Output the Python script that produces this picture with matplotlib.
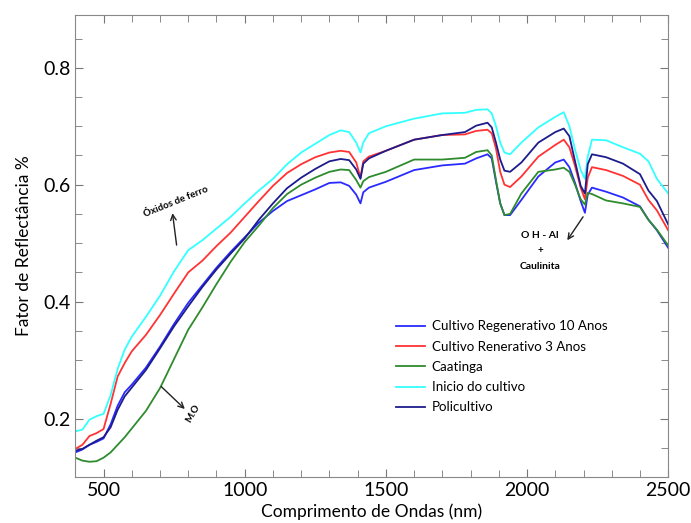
import matplotlib
matplotlib.use("Agg")
import matplotlib.pyplot as plt
from matplotlib.ticker import MultipleLocator

plt.rcParams['font.family'] = ['Lato', 'DejaVu Sans']

wavelength = [400, 425, 450, 475, 500, 525, 550, 575, 600, 650, 700, 750, 800, 850, 900, 950,
              1000, 1050, 1100, 1150, 1200, 1250, 1300, 1340, 1370, 1395, 1410, 1420, 1440,
              1500, 1600, 1700, 1780, 1820, 1860, 1875, 1890, 1905, 1920, 1940, 1980, 2040,
              2100, 2130, 2150, 2170, 2190, 2205, 2215, 2230, 2280, 2340, 2400, 2430, 2460, 2500]

regen10 = [0.142, 0.147, 0.155, 0.160, 0.166, 0.190, 0.222, 0.245, 0.258, 0.287, 0.323, 0.362,
           0.398, 0.428, 0.458, 0.485, 0.510, 0.535, 0.555, 0.572, 0.582, 0.592, 0.603, 0.604,
           0.598, 0.583, 0.568, 0.587, 0.595, 0.605, 0.625, 0.633, 0.636, 0.645, 0.652, 0.645,
           0.605, 0.568, 0.548, 0.548, 0.574, 0.614, 0.638, 0.643, 0.630, 0.603, 0.572, 0.552,
           0.583, 0.595, 0.588, 0.578, 0.563, 0.540, 0.522, 0.492]

regen3 = [0.148, 0.155, 0.170, 0.175, 0.182, 0.225, 0.272, 0.295, 0.315, 0.343, 0.377, 0.414,
          0.450, 0.470, 0.495, 0.518, 0.545, 0.572, 0.598, 0.620, 0.635, 0.647, 0.655, 0.658,
          0.656, 0.638, 0.612, 0.640, 0.648, 0.658, 0.677, 0.685, 0.686, 0.692, 0.694, 0.688,
          0.662, 0.622, 0.600, 0.596, 0.614, 0.648, 0.668, 0.677, 0.664, 0.632, 0.595, 0.575,
          0.612, 0.630, 0.625, 0.615, 0.600, 0.574, 0.556, 0.522]

caatinga = [0.133, 0.128, 0.126, 0.127, 0.133, 0.142, 0.155, 0.168, 0.183, 0.213, 0.252, 0.302,
            0.352, 0.390, 0.430, 0.468, 0.502, 0.530, 0.560, 0.584, 0.600, 0.612, 0.622, 0.626,
            0.625, 0.608, 0.595, 0.606, 0.613, 0.622, 0.643, 0.643, 0.646, 0.656, 0.659, 0.650,
            0.608, 0.568, 0.548, 0.550, 0.585, 0.622, 0.626, 0.629, 0.622, 0.600, 0.575, 0.566,
            0.586, 0.584, 0.573, 0.568, 0.562, 0.540, 0.523, 0.496]

inicio = [0.178, 0.181, 0.198, 0.204, 0.208, 0.240, 0.285, 0.318, 0.340, 0.374, 0.410, 0.452,
          0.488, 0.505, 0.525, 0.545, 0.568, 0.590, 0.610, 0.635, 0.655, 0.670, 0.685, 0.693,
          0.690, 0.672, 0.655, 0.672, 0.688, 0.700, 0.713, 0.722, 0.723, 0.728, 0.729, 0.722,
          0.700, 0.672, 0.655, 0.652, 0.672, 0.698, 0.716, 0.724, 0.700, 0.660, 0.625, 0.610,
          0.648, 0.677, 0.676, 0.664, 0.653, 0.640, 0.610, 0.585]

policultivo = [0.145, 0.148, 0.155, 0.162, 0.168, 0.185, 0.215, 0.238, 0.253, 0.283, 0.320, 0.358,
               0.392, 0.425, 0.455, 0.482, 0.508, 0.540, 0.568, 0.594, 0.612, 0.627, 0.640, 0.644,
               0.642, 0.626, 0.610, 0.636, 0.645, 0.658, 0.677, 0.685, 0.690, 0.701, 0.706, 0.698,
               0.672, 0.643, 0.624, 0.622, 0.638, 0.672, 0.690, 0.696, 0.683, 0.640, 0.598, 0.585,
               0.635, 0.652, 0.647, 0.636, 0.618, 0.590, 0.572, 0.532]

labels = ["Cultivo Regenerativo 10 Anos", "Cultivo Renerativo 3 Anos", "Caatinga",
          "Inicio do cultivo", "Policultivo"]
colors = ["#2a2aff", "#ff3333", "#2e8b2e", "#33ffff", "#1c1c8c"]
series = [regen10, regen3, caatinga, inicio, policultivo]

fig = plt.figure(figsize=(6.91, 5.23), dpi=100)
ax = fig.add_axes([0.109, 0.088, 0.858, 0.883])

for y, c, lab in zip(series, colors, labels):
    ax.plot(wavelength, y, color=c, lw=1.3, label=lab)

ax.set_xlim(400, 2500)
ax.set_ylim(0.1, 0.89)
ax.xaxis.set_major_locator(MultipleLocator(500))
ax.xaxis.set_minor_locator(MultipleLocator(100))
ax.yaxis.set_major_locator(MultipleLocator(0.2))
ax.yaxis.set_minor_locator(MultipleLocator(0.05))
ax.tick_params(which='both', direction='in', top=True, right=True, color='#777777')
ax.tick_params(which='major', length=6, labelsize=14)
ax.tick_params(which='minor', length=5)
for s in ax.spines.values():
    s.set_color('#888888')

ax.set_xlabel("Comprimento de Ondas (nm)", fontsize=12.5, labelpad=3)
ax.set_ylabel("Fator de Reflectância %", fontsize=12.5, labelpad=8)

leg = ax.legend(loc='upper left', bbox_to_anchor=(0.52, 0.365), frameon=False,
                fontsize=9.6, handlelength=2.2, handletextpad=0.5, labelspacing=0.62)

# annotations
arrow = dict(arrowstyle='->', color='#222222', lw=1.0)
ax.annotate("", xy=(743, 0.556), xytext=(760, 0.492), arrowprops=arrow)
ax.text(757, 0.571, "Óxidos de ferro", rotation=22, fontsize=7, fontweight='bold',
        ha='center', va='center')

ax.annotate("", xy=(795, 0.213), xytext=(697, 0.258), arrowprops=arrow)
ax.text(816, 0.208, "M.O", rotation=60, fontsize=7, fontweight='bold', ha='center', va='center')

ax.annotate("", xy=(2137, 0.501), xytext=(2204, 0.549), arrowprops=arrow)
ax.text(2046, 0.513, "O H - Al", fontsize=7.5, fontweight='bold', ha='center', va='center')
ax.text(2046, 0.487, "+", fontsize=7, fontweight='bold', ha='center', va='center')
ax.text(2046, 0.460, "Caulinita", fontsize=7.5, fontweight='bold', ha='center', va='center')

fig.savefig("out.png", dpi=100)
